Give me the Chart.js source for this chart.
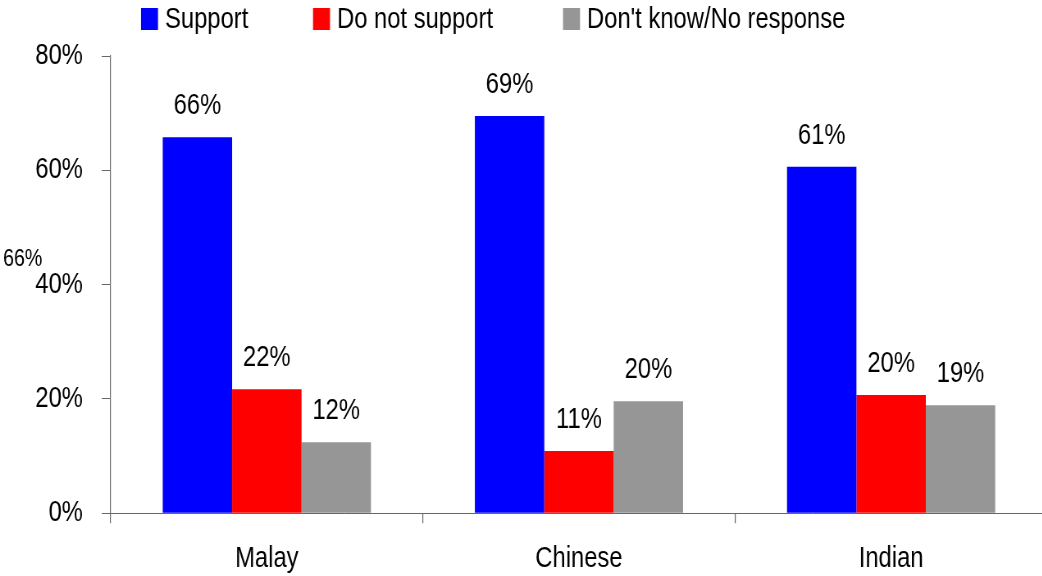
<!DOCTYPE html>
<html>
<head>
<meta charset="utf-8">
<script src="https://cdn.jsdelivr.net/npm/chart.js@4.4.0/dist/chart.umd.min.js"></script>
<style>
html, body { margin: 0; padding: 0; background: #fff; overflow: hidden; }
</style>
</head>
<body>
<!-- drawn 1278 wide and squeezed to 1048 so the text comes out narrow like the original -->
<canvas id="myChart" width="1278" height="576" style="width:1048px;height:576px"></canvas>
<script>
var groups = ["Malay", "Chinese", "Indian"];
var support = [65.8, 69.5, 60.6];
var notSupport = [21.7, 10.9, 20.7];
var dontKnow = [12.4, 19.6, 18.9];
var supportLabels = ["66%", "69%", "61%"];
var notSupportLabels = ["22%", "11%", "20%"];
var dontKnowLabels = ["12%", "20%", "19%"];
var strayLabel = "66%";

var FONT = '"Liberation Sans", Arial, sans-serif';
var SX = 1278 / 1048;   // horizontal stretch of the drawing buffer
var legendX = [141, 313, 563];

// numbers above the bars
var valueLabels = {
    id: 'valueLabels',
    afterDatasetsDraw: function(chart) {
        var ctx = chart.ctx;
        ctx.save();
        ctx.font = '29px ' + FONT;
        ctx.fillStyle = '#000';
        ctx.textAlign = 'center';
        ctx.textBaseline = 'middle';
        chart.data.datasets.forEach(function(ds, i) {
            chart.getDatasetMeta(i).data.forEach(function(bar, j) {
                ctx.fillText(ds.valueLabels[j], bar.x, bar.y - 31);
            });
        });
        ctx.restore();
    }
};

// legend row at the top + the loose label on the left
var topLegend = {
    id: 'topLegend',
    afterDraw: function(chart) {
        var ctx = chart.ctx;
        ctx.save();
        ctx.font = '29px ' + FONT;
        ctx.textAlign = 'left';
        ctx.textBaseline = 'middle';
        chart.data.datasets.forEach(function(ds, i) {
            var x = legendX[i] * SX;
            ctx.fillStyle = ds.backgroundColor;
            ctx.fillRect(x, 8, 17 * SX, 22);
            ctx.fillStyle = '#000';
            ctx.fillText(ds.label, x + 24 * SX, 20);
        });
        ctx.font = '24px ' + FONT;
        ctx.fillText(strayLabel, 3 * SX, 259);
        ctx.restore();
    }
};

var ctx = document.getElementById("myChart");
var myChart = new Chart(ctx, {
    type: 'bar',
    data: {
        labels: groups,
        datasets: [{
            label: "Support",
            backgroundColor: "#0000ff",
            data: support,
            valueLabels: supportLabels
        }, {
            label: "Do not support",
            backgroundColor: "#ff0000",
            data: notSupport,
            valueLabels: notSupportLabels
        }, {
            label: "Don't know/No response",
            backgroundColor: "#969696",
            data: dontKnow,
            valueLabels: dontKnowLabels
        }]
    },
    options: {
        responsive: false,
        animation: false,
        layout: { padding: { top: 56, left: 20, right: 1, bottom: -18 } },
        datasets: {
            bar: { barPercentage: 1, categoryPercentage: 0.667 }
        },
        scales: {
            x: {
                grid: { display: true, drawOnChartArea: false, drawTicks: true, tickLength: 10, color: '#666', lineWidth: 1.2, offset: true },
                border: { color: '#666' },
                ticks: { color: '#000', font: { family: FONT, size: 29 }, padding: 18 }
            },
            y: {
                min: 0,
                max: 80,
                grid: { drawOnChartArea: false, drawTicks: true, tickLength: 11, color: '#666' },
                border: { color: '#666', width: 1.2 },
                ticks: {
                    stepSize: 20,
                    color: '#000',
                    font: { family: FONT, size: 29 },
                    padding: 23,
                    callback: function(v) { return v + '%'; }
                }
            }
        },
        plugins: {
            legend: { display: false },
            tooltip: { enabled: false }
        }
    },
    plugins: [valueLabels, topLegend]
});
</script>
</body>
</html>
